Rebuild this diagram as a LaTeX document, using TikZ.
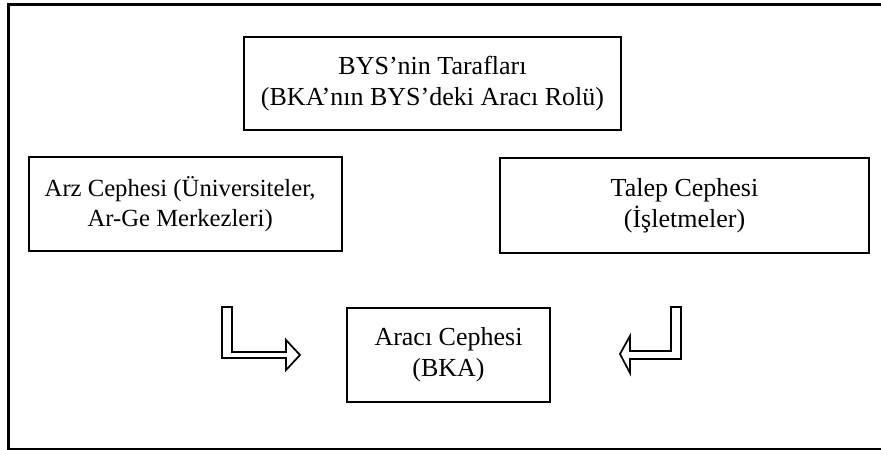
\documentclass[tikz,border=0pt]{standalone}
\usepackage{fontspec}
\setmainfont{Liberation Serif}
\begin{document}
\begin{tikzpicture}[x=0.75bp,y=-0.75bp,
  box/.style={draw=black,line width=1.1bp,rectangle,align=center,inner sep=0pt,
    font=\fontsize{19.5bp}{23bp}\selectfont},
  blockarrow/.style={draw=black,line width=1.3bp,fill=white,line join=miter}]
\useasboundingbox (0,0) rectangle (881,450);
% outer frame (open on the right)
\draw[line width=1.6bp] (881,4.5) -- (8.5,4.5) -- (8.5,449) -- (881,449);
\node[box,minimum width=282.75bp,minimum height=69.75bp] (top) at (432.5,83.5)
  {BYS’nin Tarafları\\(BKA’nın BYS’deki Aracı Rolü)};
\node[box,minimum width=234.75bp,minimum height=70.5bp,
  font=\fontsize{18.5bp}{23bp}\selectfont] (arz) at (185.5,204)
  {Arz Cephesi (Üniversiteler,\hspace*{8bp}\\Ar-Ge Merkezleri)\hspace*{8bp}};
\node[box,minimum width=276.75bp,minimum height=71.25bp] (talep) at (684.5,205.5)
  {Talep Cephesi\\(İşletmeler)};
\node[box,minimum width=152.25bp,minimum height=70.5bp] (araci) at (448.5,355)
  {Aracı Cephesi\\(BKA)};
% L-shaped block arrows
\draw[blockarrow] (222,307) -- (232,307) -- (232,352) -- (286,352) -- (286,340)
  -- (300,355) -- (286,370) -- (286,358) -- (222,358) -- cycle;
\draw[blockarrow] (671,307) -- (681,307) -- (681,359) -- (630,359) -- (630,373)
  -- (620,354) -- (630,336) -- (630,351) -- (671,351) -- cycle;
\end{tikzpicture}
\end{document}
